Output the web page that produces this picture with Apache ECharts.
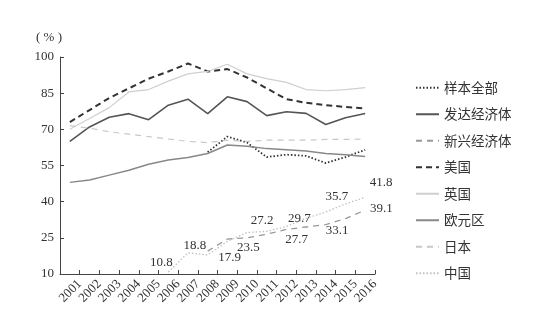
<!DOCTYPE html>
<html>
<head>
<meta charset="utf-8">
<script src="https://cdn.jsdelivr.net/npm/echarts@6/dist/echarts.min.js"></script>
<style>
html,body{margin:0;padding:0;background:#fff;}
#c{width:538px;height:326px;}
</style>
</head>
<body>
<div id="c"></div>
<script>
var years = ['2001','2002','2003','2004','2005','2006','2007','2008','2009','2010','2011','2012','2013','2014','2015','2016'];
var yTicks = [10, 25, 40, 55, 70, 85, 100];
var sampleAll = [null,null,null,null,null,null,null,60.5,67,64.5,58.5,59.5,59,56,58.5,61.5];
var advanced = [65,71,75,76.5,74,80,82.5,76.5,83.5,81.5,75.7,77.3,76.6,72,74.8,76.6];
var emerging = [null,null,null,null,null,null,null,19.5,24.5,25,26.5,28.5,29.5,30.5,33,36.5];
var usa = [73,78,83,87,91,94,97.3,94,95,91.5,87,82.5,81,80,79.3,78.7];
var uk = [70,74.5,79,85.5,86.5,90,93,94,97,93,91,89.5,86.5,86,86.5,87.3];
var euro = [48,49,51,53,55.5,57.3,58.3,60,63.5,63,62,61.5,61,60,59.5,58.7];
var japan = [71.5,70.5,69,68,67,66,65,64.5,65.5,65,65.5,65.5,65.5,65.8,65.8,66];
var china = [null,null,null,null,null,10.8,18.8,17.9,23.5,27.2,27.7,29.7,33.1,35.7,39.1,41.8];
var names = ['样本全部','发达经济体','新兴经济体','美国','英国','欧元区','日本','中国'];

// label offsets for China value labels (style only)
var chinaLabelOffsets = [null,null,null,null,null,[-7,-9],[7,-7],[22,3],[21,6],[15,-12],[30,8],[13,-8],[31,12],[11,-15],[36,5],[16,-15]];

var serif = '"Liberation Serif","Noto Sans CJK SC",serif';
var cjk = '"Noto Sans CJK SC","Liberation Serif",sans-serif';

function line(name, data, color, width, type, extra){
  var s = {
    name: name, type: 'line', data: data, symbol: 'none', smooth: false,
    xAxisIndex: 0, yAxisIndex: 0,
    lineStyle: {color: color, width: width, type: type},
    itemStyle: {color: color},
    connectNulls: false,
    emphasis: {disabled: true},
    z: 2
  };
  if (extra) for (var k in extra) s[k] = extra[k];
  return s;
}

var chart = echarts.init(document.getElementById('c'), null, {renderer: 'canvas'});
chart.setOption({
  animation: false,
  backgroundColor: '#fff',
  grid: {left: 60, top: 57, width: 315, height: 217, containLabel: false},
  legend: {
    orient: 'vertical', left: 415, top: 81, padding: 0,
    itemWidth: 23, itemHeight: 12, itemGap: 13,
    itemStyle: {opacity: 0},
    textStyle: {fontFamily: cjk, fontSize: 13.5, color: '#333'},
    data: names
  },
  xAxis: [
    {type: 'category', data: years, boundaryGap: true, show: false},
    {type: 'category', position: 'bottom', data: [''].concat(years), boundaryGap: false,
     axisLine: {show: true, lineStyle: {color: '#444', width: 1}},
     axisTick: {show: true, inside: true, length: 4, lineStyle: {color: '#444'}},
     axisLabel: {rotate: 45, margin: 8, interval: 0, fontFamily: serif, fontSize: 13, color: '#333'},
     splitLine: {show: false}}
  ],
  yAxis: {
    type: 'value', min: yTicks[0], max: yTicks[yTicks.length-1], interval: 15,
    name: '( % )', nameLocation: 'end', nameGap: 13,
    nameTextStyle: {fontFamily: serif, fontSize: 13, color: '#333', align: 'right', padding: [0, -2, 0, 0]},
    axisLine: {show: true, lineStyle: {color: '#444', width: 1}},
    axisTick: {show: true, inside: true, length: 4, lineStyle: {color: '#444'}},
    axisLabel: {fontFamily: serif, fontSize: 13, color: '#333', margin: 6},
    splitLine: {show: false}
  },
  series: [
    line(names[0], sampleAll, '#333', 1.8, [1.5, 2]),
    line(names[1], advanced, '#555', 1.6, 'solid'),
    line(names[2], emerging, '#999', 1.3, [6, 5]),
    line(names[3], usa, '#333', 2, [6, 4]),
    line(names[4], uk, '#cfcfcf', 1.2, 'solid'),
    line(names[5], euro, '#888', 1.5, 'solid'),
    line(names[6], japan, '#c8c8c8', 1.2, [6, 5]),
    line(names[7], china, '#c0c0c0', 1.3, [1.5, 2], {
      symbol: 'circle', symbolSize: 1, showSymbol: true,
      itemStyle: {color: 'rgba(0,0,0,0)', borderWidth: 0},
      label: {show: true, position: 'inside', fontFamily: serif, fontSize: 13, color: '#333'},
      labelLayout: function (p) {
        var o = chinaLabelOffsets[p.dataIndex] || [0, 0];
        return {dx: o[0], dy: o[1], hideOverlap: false};
      },
      z: 3
    })
  ]
});
</script>
</body>
</html>
